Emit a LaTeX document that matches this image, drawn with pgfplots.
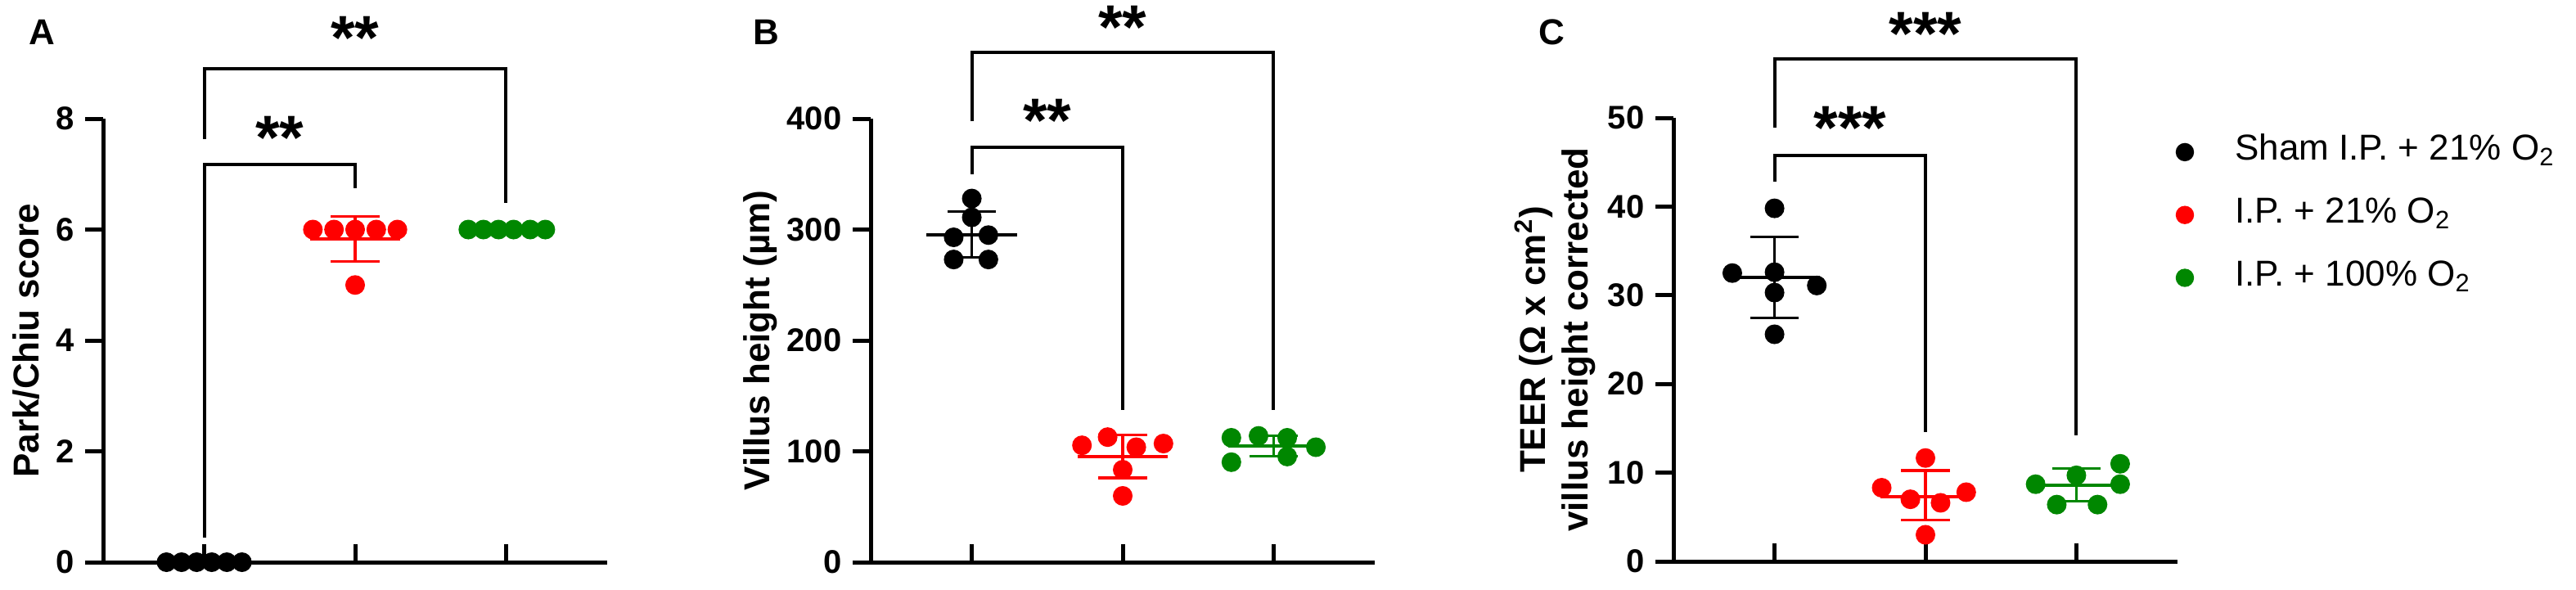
\documentclass[border=0pt]{standalone}
\usepackage{fontspec}
\setmainfont{Liberation Sans}
\usepackage{pgfplots}
\pgfplotsset{compat=1.18}
\definecolor{pgreen}{RGB}{0,135,0}

\pgfplotsset{
  panel/.style={
    scale only axis, width=154pt, height=135.5pt,
    xmin=0.33, xmax=3.67,
    axis x line*=bottom, axis y line*=left,
    axis line style={line width=1.25pt},
    xtick=\empty,
    tick style={line width=1.25pt, black},
    major tick length=5.4pt,
    ytick align=outside,
    ticklabel style={font=\bfseries\fontsize{10}{12}\selectfont},
    /pgf/number format/assume math mode=true,
    clip=false,
    ylabel style={font=\bfseries\fontsize{11}{13}\selectfont, anchor=center, align=center},
  },
  % category ticks on the x axis, pointing up, 5.4pt long
  cat/.style={ycomb, black, line width=1.25pt, mark=none, forget plot},
  dots/.style={only marks, mark=*, mark size=2.8pt},
  mean/.style={line width=1pt, forget plot},
  sd/.style={mark=none, forget plot,
    error bars/y dir=both, error bars/y explicit,
    error bars/error bar style={line width=0.8pt}, error bars/error mark=|,
    error bars/error mark options={mark size=7.4pt, line width=0.8pt}},
  brk/.style={black, line width=1pt, forget plot},
}
\newcommand{\stars}[2]{\node[font=\bfseries\fontsize{19}{19}\selectfont, yshift=-1.5pt] at (axis cs:#1) {#2};}

\begin{document}
\begin{tikzpicture}
\useasboundingbox (0,0) rectangle (787pt,-180pt);

% A
\node[font=\bfseries\fontsize{11}{13}\selectfont] at (12.75pt,-9.75pt) {A};
\begin{axis}[panel, at={(31.5pt,-171.75pt)}, anchor=south west,
  ymin=0, ymax=8, ytick={0,2,4,6,8},
  ylabel={Park/Chiu score}, ylabel style={at={(axis description cs:-0.1526,0.5)}}]
\addplot[cat] coordinates {(1,0.32)(2,0.32)(3,0.32)};
\addplot[brk] coordinates {(1,7.63)(1,8.9)(3,8.9)(3,6.48)};
\addplot[brk] coordinates {(1,0.45)(1,7.18)(2,7.18)(2,6.74)};
\stars{2,9.55}{**}
\stars{1.5,7.75}{**}
\addplot[mean, black] coordinates {(0.7,0)(1.3,0)};
\addplot[sd, black] coordinates {(1,0) +- (0,0)};
\addplot[mean, red] coordinates {(1.7,5.83)(2.3,5.83)};
\addplot[sd, red] coordinates {(2,5.83) +- (0,0.41)};
\addplot[mean, pgreen] coordinates {(2.7,6)(3.3,6)};
\addplot[sd, pgreen] coordinates {(3,6) +- (0,0)};
\addplot[dots, black] coordinates {(0.75,0)(0.85,0)(0.95,0)(1.05,0)(1.15,0)(1.25,0)};
\addplot[dots, red] coordinates {(1.72,6)(1.86,6)(2,6)(2.14,6)(2.28,6)(2,5)};
\addplot[dots, pgreen] coordinates {(2.75,6)(2.85,6)(2.95,6)(3.05,6)(3.16,6)(3.26,6)};
\end{axis}

% B
\node[font=\bfseries\fontsize{11}{13}\selectfont] at (234pt,-9.75pt) {B};
\begin{axis}[panel, at={(266pt,-171.75pt)}, anchor=south west,
  ymin=0, ymax=400, ytick={0,100,200,300,400},
  ylabel={Villus height (µm)}, ylabel style={at={(axis description cs:-0.218,0.5)}}]
\addplot[cat] coordinates {(1,16)(2,16)(3,16)};
\addplot[brk] coordinates {(1,397.6)(1,460)(3,460)(3,137.5)};
\addplot[brk] coordinates {(1,350)(1,374)(2,374)(2,137.5)};
\stars{2,487}{**}
\stars{1.5,403}{**}
\addplot[mean, black] coordinates {(0.7,295.5)(1.3,295.5)};
\addplot[sd, black] coordinates {(1,295.5) +- (0,20.7)};
\addplot[mean, red] coordinates {(1.7,95.3)(2.3,95.3)};
\addplot[sd, red] coordinates {(2,95.3) +- (0,19.3)};
\addplot[mean, pgreen] coordinates {(2.7,105)(3.3,105)};
\addplot[sd, pgreen] coordinates {(3,105) +- (0,9.2)};
\addplot[dots, black] coordinates {(1,328)(1,311)(0.88,293)(1.11,295)(0.88,273)(1.11,273)};
\addplot[dots, red] coordinates {(1.73,105.4)(1.9,112.8)(2.09,103.7)(2.27,107)(2,83.4)(2,59.8)};
\addplot[dots, pgreen] coordinates {(2.72,112.2)(2.72,90.2)(2.9,113.9)(3.09,112.2)(3.09,95.3)(3.28,103.7)};
\end{axis}

% C
\node[font=\bfseries\fontsize{11}{13}\selectfont] at (474pt,-9.75pt) {C};
\begin{axis}[panel, at={(511.25pt,-171.5pt)}, anchor=south west,
  ymin=0, ymax=50, ytick={0,10,20,30,40,50},
  ylabel={TEER (Ω x cm\textsuperscript{2})\\villus height corrected},
  ylabel style={at={(axis description cs:-0.235,0.5)}},
  legend style={at={(axis description cs:0.9964,0.781)}, anchor=west,
    draw=none, fill=none, inner sep=0pt, row sep=9.2pt, column sep=12.7pt,
    font=\fontsize{11}{12}\selectfont,
    nodes={inner sep=0pt, text height=7.5pt, text depth=2.5pt}},
  legend cell align=left,
  legend image code/.code={\draw[#1] plot coordinates {(0pt,0pt)};},
  legend image post style={mark size=2.6pt}]
\addplot[cat] coordinates {(1,2)(2,2)(3,2)};
\addplot[brk] coordinates {(1,48.9)(1,56.6)(3,56.6)(3,14.2)};
\addplot[brk] coordinates {(1,42.8)(1,45.8)(2,45.8)(2,14.6)};
\stars{2,60}{***}
\stars{1.5,49.4}{***}
\addplot[mean, black] coordinates {(0.7,32)(1.3,32)};
\addplot[sd, black] coordinates {(1,32) +- (0,4.55)};
\addplot[mean, red] coordinates {(1.7,7.3)(2.3,7.3)};
\addplot[sd, red] coordinates {(2,7.45) +- (0,2.8)};
\addplot[mean, pgreen] coordinates {(2.7,8.6)(3.3,8.6)};
\addplot[sd, pgreen] coordinates {(3,8.6) +- (0,1.85)};
\addplot[dots, black] coordinates {(1,39.8)(0.72,32.5)(1,32.6)(1.28,31.1)(1,30.3)(1,25.6)};
\addlegendentry{Sham I.P. + 21\% O\textsubscript{2}}
\addplot[dots, red] coordinates {(2,11.65)(1.71,8.3)(2.27,7.8)(1.9,7.0)(2.1,6.6)(2,3.0)};
\addlegendentry{I.P. + 21\% O\textsubscript{2}}
\addplot[dots, pgreen] coordinates {(3.29,11.0)(2.73,8.7)(3,9.7)(3.29,8.7)(2.87,6.4)(3.14,6.4)};
\addlegendentry{I.P. + 100\% O\textsubscript{2}}
\end{axis}
\end{tikzpicture}
\end{document}
